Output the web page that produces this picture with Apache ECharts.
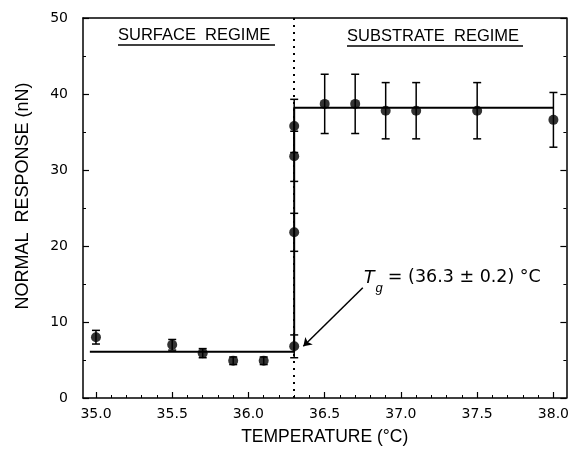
<!DOCTYPE html>
<html>
<head>
<meta charset="utf-8">
<script src="https://cdn.jsdelivr.net/npm/echarts@6/dist/echarts.min.js"></script>
<style>
  html, body { margin: 0; padding: 0; background: #fff; }
  #main { width: 572px; height: 452px; }
</style>
</head>
<body>
<div id="main"></div>
<script>
// data
var surfT = [35.0, 35.5, 35.7, 35.9, 36.1, 36.3];
var surfF = [8.0, 7.0, 5.9, 4.9, 4.9, 6.8];
var surfErr = [0.9, 0.7, 0.6, 0.5, 0.5, 1.5];

var transT = [36.3, 36.3, 36.3];
var transF = [21.8, 31.8, 35.8];
var transErr = [2.5, 3.3, 3.5];

var subT = [36.5, 36.7, 36.9, 37.1, 37.5, 38.0];
var subF = [38.7, 38.7, 37.8, 37.8, 37.8, 36.6];
var subErr = [3.9, 3.9, 3.7, 3.7, 3.7, 3.6];

var fitT = [34.96, 36.3, 36.3, 38.0];
var fitF = [6.1, 6.1, 38.2, 38.2];

var Tg = 36.3;
var arrowFrom = [36.75, 14.5];
var arrowTo = [36.36, 6.8];

var xMajor = [35.0, 35.5, 36.0, 36.5, 37.0, 37.5, 38.0];
var xMinor = [];
for (var v = 350; v <= 380; v++) { if (v % 5 !== 0) xMinor.push(v / 10); }

var FONT = 'Liberation Sans';
var WIDE = 'DejaVu Sans';

function pts(xs, ys) {
    var out = [];
    for (var i = 0; i < xs.length; i++) out.push([xs[i], ys[i]]);
    return out;
}
function errPts(xs, ys, es) {
    var out = [];
    for (var i = 0; i < xs.length; i++) out.push([xs[i], ys[i] - es[i], ys[i] + es[i]]);
    return out;
}

var allPts = pts(surfT, surfF).concat(pts(transT, transF), pts(subT, subF));
var allErr = errPts(surfT, surfF, surfErr).concat(errPts(transT, transF, transErr), errPts(subT, subF, subErr));

function renderErr(params, api) {
    var lo = api.coord([api.value(0), api.value(1)]);
    var hi = api.coord([api.value(0), api.value(2)]);
    var w = 4;
    var st = { stroke: '#000', lineWidth: 1.5 };
    return {
        type: 'group',
        children: [
            { type: 'line', shape: { x1: lo[0], y1: lo[1], x2: hi[0], y2: hi[1] }, style: st },
            { type: 'line', shape: { x1: lo[0] - w, y1: lo[1], x2: lo[0] + w, y2: lo[1] }, style: st },
            { type: 'line', shape: { x1: hi[0] - w, y1: hi[1], x2: hi[0] + w, y2: hi[1] }, style: st }
        ]
    };
}

var chart = echarts.init(document.getElementById('main'));
var xBase = { type: 'value', min: 34.915, max: 38.085, splitLine: { show: false } };
var option = {
    backgroundColor: '#fff',
    animation: false,
    textStyle: { fontFamily: FONT },
    grid: { left: 83, right: 2, top: 18, bottom: 54 },
    xAxis: [
        Object.assign({}, xBase, {
            position: 'bottom',
            name: 'TEMPERATURE (°C)', nameLocation: 'middle', nameGap: 30,
            nameTextStyle: { color: '#000', fontSize: 17.5, fontFamily: FONT },
            axisLine: { lineStyle: { color: '#000', width: 1.5 } },
            axisTick: { inside: true, length: 6, customValues: xMajor, lineStyle: { color: '#000', width: 1.2 } },
            axisLabel: { customValues: xMajor, color: '#000', fontSize: 14, fontFamily: WIDE, margin: 9,
                formatter: function (v) { return v.toFixed(1); } }
        }),
        Object.assign({}, xBase, {
            position: 'bottom',
            axisLine: { show: false },
            axisTick: { inside: true, length: 3, customValues: xMinor, lineStyle: { color: '#000', width: 1 } },
            axisLabel: { show: false }
        }),
        Object.assign({}, xBase, {
            position: 'top',
            axisLine: { lineStyle: { color: '#000', width: 1.5 } },
            axisTick: { show: false },
            axisLabel: { show: false }
        })
    ],
    yAxis: [
        {
            type: 'value', min: 0, max: 50, interval: 10, position: 'left',
            name: 'NORMAL  RESPONSE (nN)', nameLocation: 'middle', nameGap: 51,
            nameTextStyle: { color: '#000', fontSize: 18, fontFamily: FONT, padding: [0, 0, 0, 24] },
            splitLine: { show: false },
            axisLine: { show: true, lineStyle: { color: '#000', width: 1.5 } },
            axisTick: { inside: true, length: 6, lineStyle: { color: '#000', width: 1.2 } },
            minorTick: { show: true, splitNumber: 2, length: 3, lineStyle: { color: '#000', width: 1 } },
            axisLabel: { color: '#000', fontSize: 14, fontFamily: WIDE, margin: 15 }
        },
        {
            type: 'value', min: 0, max: 50, interval: 10, position: 'right',
            splitLine: { show: false },
            axisLine: { show: true, lineStyle: { color: '#000', width: 1.5 } },
            axisTick: { inside: true, length: 6, lineStyle: { color: '#000', width: 1.2 } },
            minorTick: { show: true, splitNumber: 2, length: 3, lineStyle: { color: '#000', width: 1 } },
            axisLabel: { show: false }
        }
    ],
    series: [
        {
            type: 'line', name: 'fit', data: pts(fitT, fitF), symbol: 'none',
            lineStyle: { color: '#000', width: 2 }, z: 3,
            markLine: {
                silent: true, symbol: 'none', label: { show: false },
                lineStyle: { color: '#000', width: 2, type: [2, 5] },
                data: [{ xAxis: Tg }]
            }
        },
        {
            type: 'custom', name: 'err', renderItem: renderErr, data: allErr,
            encode: { x: 0, y: [1, 2] }, z: 4
        },
        {
            type: 'scatter', name: 'data', data: allPts, symbol: 'circle', symbolSize: 10,
            itemStyle: { color: '#000' }, z: 5,
            markLine: {
                silent: true, symbol: ['none', 'arrow'], symbolSize: 8, label: { show: false },
                lineStyle: { color: '#000', width: 1.5, type: 'solid' },
                data: [[{ coord: arrowFrom }, { coord: arrowTo }]]
            }
        }
    ],
    graphic: [
        { type: 'text', left: 118, top: 27, style: { text: 'SURFACE  REGIME', fill: '#000', font: '16.5px "Liberation Sans"' } },
        { type: 'line', shape: { x1: 118, y1: 45, x2: 275, y2: 45 }, style: { stroke: '#000', lineWidth: 1.5 } },
        { type: 'text', left: 347, top: 28, style: { text: 'SUBSTRATE  REGIME', fill: '#000', font: '16.5px "Liberation Sans"' } },
        { type: 'line', shape: { x1: 347, y1: 46, x2: 523, y2: 46 }, style: { stroke: '#000', lineWidth: 1.5 } },
        {
            type: 'text', left: 363, top: 268,
            style: {
                text: '{t|T}{g|g}{n|= (36.3 ± 0.2) °C}',
                rich: {
                    t: { fontSize: 19, fontStyle: 'italic', fontFamily: FONT, fill: '#000', verticalAlign: 'top' },
                    g: { fontSize: 13, fontStyle: 'italic', fontFamily: FONT, fill: '#000', verticalAlign: 'bottom', padding: [14, 5, 0, 1] },
                    n: { fontSize: 17.5, fontFamily: WIDE, fill: '#000', verticalAlign: 'top' }
                }
            }
        }
    ]
};
chart.setOption(option);
</script>
</body>
</html>
